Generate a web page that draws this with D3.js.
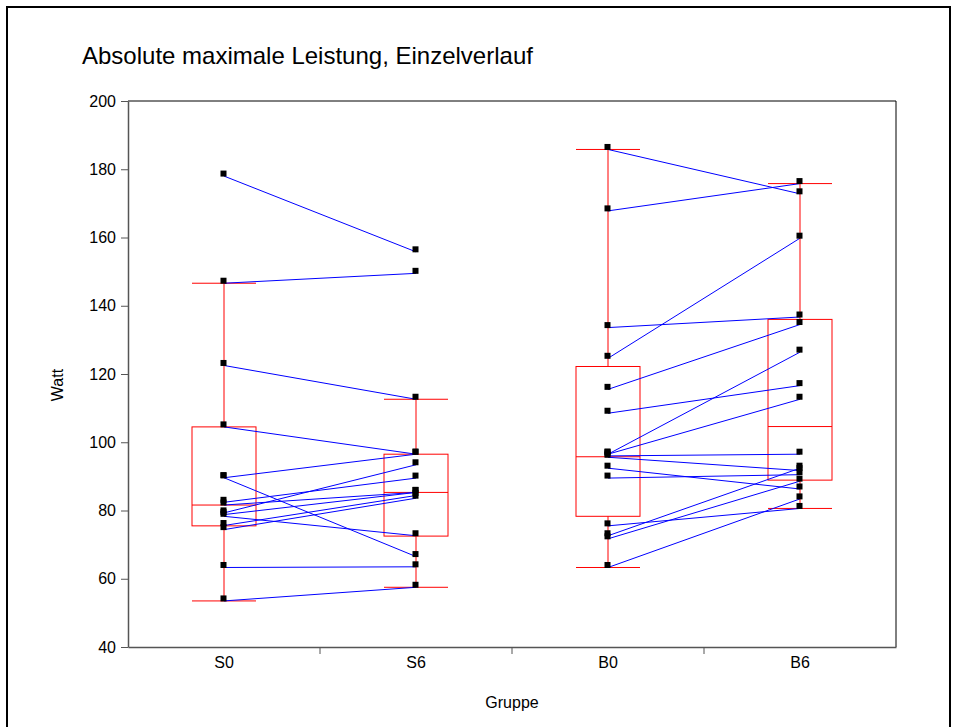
<!DOCTYPE html>
<html>
<head>
<meta charset="utf-8">
<script src="https://cdn.jsdelivr.net/npm/d3@7"></script>
<style>
  body { margin: 0; background: #fff; }
  svg { display: block; font-family: "Liberation Sans", Arial, sans-serif; }
</style>
</head>
<body>
<script>
// groups on the x axis
var groups = ['S0', 'S6', 'B0', 'B6']

// individual values, same order = same subject (paired S0->S6, B0->B6)
var s0 = [178, 146.6, 122.5, 104.5, 89.6, 89.6, 82.4, 81.6, 79.3, 78.3, 78.8, 75.6, 74.4, 63.3, 53.5]
var s6 = [155.8, 149.5, 112.6, 96.5, 96.5, 66.5, 89.5, 85.3, 93.4, 72.6, 85.3, 84.4, 83.6, 63.5, 57.5]
var b0 = [185.8, 167.8, 133.6, 124.6, 115.5, 108.5, 96.5, 96.5, 96, 95.6, 92.4, 89.5, 75.5, 72.6, 71.7, 63.3]
var b6 = [172.8, 175.8, 136.7, 159.8, 134.5, 116.6, 126.4, 112.6, 96.5, 91.7, 86.3, 90.5, 80.6, 92.4, 88.6, 83.4]

// box plot statistics per group
var whiskerLo = [53.5, 57.5, 63.3, 80.6]
var q1 = [75.5, 72.5, 78.3, 88.9]
var median = [81.6, 85.3, 95.75, 104.6]
var q3 = [104.5, 96.5, 122.2, 136]
var whiskerHi = [146.6, 112.6, 185.8, 175.8]

var yTicks = [40, 60, 80, 100, 120, 140, 160, 180, 200]

var width = 959, height = 727
var margin = {left: 128, right: 63, top: 101, bottom: 80}
var font = '"Liberation Sans", Arial, sans-serif'

var svg = d3.select('body').append('svg')
	.attr('width', width)
	.attr('height', height)

// outer frame
svg.append('rect')
	.attr('x', 7).attr('y', 7)
	.attr('width', 943).attr('height', 760)
	.attr('fill', 'none')
	.attr('stroke', '#000')
	.attr('stroke-width', 2)

var x = d3.scaleBand()
	.domain(groups)
	.range([margin.left, width - margin.right])
	.padding(0)

var y = d3.scaleLinear()
	.domain([40, 200])
	.range([height - margin.bottom, margin.top])

var boxW = x.bandwidth() / 3
var cx = g => x(g) + x.bandwidth() / 2

// top + right frame of plot area
svg.append('path')
	.attr('d', 'M' + margin.left + ',' + y(200) + 'H' + (width - margin.right) + 'V' + y(40))
	.attr('fill', 'none')
	.attr('stroke', '#000')
	.attr('stroke-width', 1)

// y axis
var yAxis = svg.append('g')
	.attr('transform', 'translate(' + margin.left + ',0)')
	.call(d3.axisLeft(y).tickValues(yTicks).tickSize(7).tickPadding(5).tickSizeOuter(0))
yAxis.select('.domain').attr('stroke', '#555').attr('stroke-width', 1.5)
yAxis.selectAll('.tick line').attr('stroke', '#555')
yAxis.selectAll('text').attr('font-size', 16).attr('fill', '#000').attr('font-family', font)

// x axis: labels at group centres, ticks at group borders
var xAxis = svg.append('g')
	.attr('transform', 'translate(0,' + y(40) + ')')
	.call(d3.axisBottom(x).tickSize(0).tickPadding(10).tickSizeOuter(0))
xAxis.select('.domain').attr('stroke', '#555').attr('stroke-width', 1.5)
xAxis.selectAll('text').attr('font-size', 16).attr('fill', '#000').attr('font-family', font)
xAxis.selectAll('.border')
	.data(groups.slice(1))
	.enter()
	.append('line')
		.attr('class', 'border')
		.attr('x1', d => x(d)).attr('x2', d => x(d))
		.attr('y1', 0).attr('y2', 7)
		.attr('stroke', '#555')

// box plots
var boxes = svg.append('g')
groups.forEach(function(g, i) {
	var c = cx(g)
	boxes.append('rect')
		.attr('x', c - boxW / 2)
		.attr('y', y(q3[i]))
		.attr('width', boxW)
		.attr('height', y(q1[i]) - y(q3[i]))
		.attr('fill', 'none')
		.attr('stroke', '#ff0000')
	boxes.append('line')
		.attr('x1', c - boxW / 2).attr('x2', c + boxW / 2)
		.attr('y1', y(median[i])).attr('y2', y(median[i]))
		.attr('stroke', '#ff0000')
	// whiskers
	boxes.append('line')
		.attr('x1', c).attr('x2', c)
		.attr('y1', y(q3[i])).attr('y2', y(whiskerHi[i]))
		.attr('stroke', '#ff0000')
	boxes.append('line')
		.attr('x1', c).attr('x2', c)
		.attr('y1', y(q1[i])).attr('y2', y(whiskerLo[i]))
		.attr('stroke', '#ff0000')
	;[whiskerHi[i], whiskerLo[i]].forEach(function(v) {
		boxes.append('line')
			.attr('x1', c - boxW / 2).attr('x2', c + boxW / 2)
			.attr('y1', y(v)).attr('y2', y(v))
			.attr('stroke', '#ff0000')
	})
})

// individual courses
var pairs = [
	{from: 'S0', to: 'S6', a: s0, b: s6},
	{from: 'B0', to: 'B6', a: b0, b: b6}
]

var lines = svg.append('g')
pairs.forEach(function(p) {
	lines.selectAll(null)
		.data(d3.zip(p.a, p.b))
		.enter()
		.append('line')
			.attr('x1', cx(p.from)).attr('y1', d => y(d[0]))
			.attr('x2', cx(p.to)).attr('y2', d => y(d[1]))
			.attr('stroke', '#0000ff')
			.attr('stroke-width', 1)
})

// markers (drawn a bit above the line end, like the original)
var series = [s0, s6, b0, b6]
var pts = svg.append('g')
groups.forEach(function(g, i) {
	pts.selectAll(null)
		.data(series[i])
		.enter()
		.append('rect')
			.attr('x', cx(g) - 3.5)
			.attr('y', d => y(d) - 5.5)
			.attr('width', 6)
			.attr('height', 6)
			.attr('fill', '#000')
})

// titles
svg.append('text')
	.attr('x', 82).attr('y', 64)
	.attr('font-size', 24)
	.attr('font-family', font)
	.text('Absolute maximale Leistung, Einzelverlauf')

svg.append('text')
	.attr('transform', 'translate(63,385) rotate(-90)')
	.attr('text-anchor', 'middle')
	.attr('font-size', 16)
	.attr('font-family', font)
	.text('Watt')

svg.append('text')
	.attr('x', (margin.left + width - margin.right) / 2)
	.attr('y', 708)
	.attr('text-anchor', 'middle')
	.attr('font-size', 16)
	.attr('font-family', font)
	.text('Gruppe')
</script>
</body>
</html>
